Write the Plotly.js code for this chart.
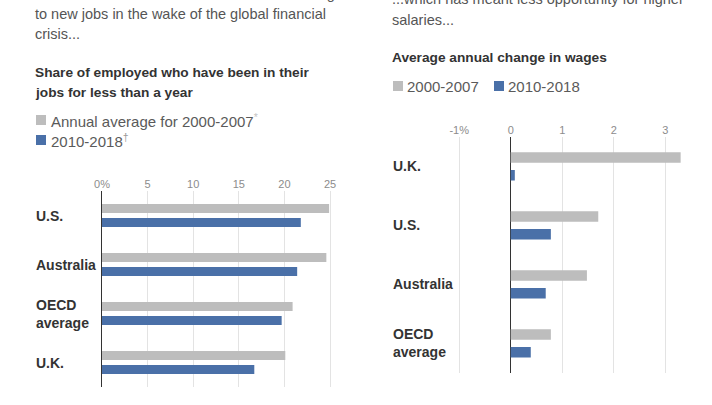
<!DOCTYPE html>
<html>
<head>
<meta charset="utf-8">
<script src="https://cdn.plot.ly/plotly-3.0.1.min.js"></script>
<style>html,body{margin:0;padding:0;background:#fff;}#chart{width:712px;height:405px;}</style>
</head>
<body>
<div id="chart"></div>
<script>
// ---- data ----
const jobCountries = ['U.S.', 'Australia', 'OECD<br>average', 'U.K.'];
const jobs2000_2007 = [24.9, 24.6, 20.9, 20.1];
const jobs2010_2018 = [21.8, 21.4, 19.7, 16.7];
const jobTickVals = [0, 5, 10, 15, 20, 25];
const jobTickText = ['0%', '5', '10', '15', '20', '25'];

const wageCountries = ['U.K.', 'U.S.', 'Australia', 'OECD<br>average'];
const wage2000_2007 = [3.4, 1.7, 1.48, 0.78];
const wage2010_2018 = [0.08, 0.78, 0.68, 0.39];
const wageTickVals = [-1, 0, 1, 2, 3];
const wageTickText = ['-1%', '0', '1', '2', '3'];

const jobSeriesNames = ['Annual average for 2000-2007<sup><span style="color:#c4c4c4">*</span></sup>',
                        '2010-2018<sup><span style="color:#999">\u2020</span></sup>'];
const wageSeriesNames = ['2000-2007', '2010-2018'];

const introLeft = ['Fewer workers in these nations were switching', 'to new jobs in the wake of the global financial', 'crisis...'];
const introRight = ['...which has meant less opportunity for higher', 'salaries...'];
const titleLeft = ['Share of employed who have been in their', 'jobs for less than a year'];
const titleRight = ['Average annual change in wages'];

// ---- style ----
const GRAY = '#bdbdbd', BLUE = '#4a70a8';
const FONT = '"Liberation Sans", Arial, sans-serif';
const W = 712, H = 405;
const px = v => v / W;
const py = v => (H - v) / H;

const traces = [
  {type: 'bar', orientation: 'h', x: jobs2000_2007, y: jobCountries, xaxis: 'x', yaxis: 'y',
   marker: {color: GRAY}, width: 0.184, offset: -0.235, hoverinfo: 'x'},
  {type: 'bar', orientation: 'h', x: jobs2010_2018, y: jobCountries, xaxis: 'x', yaxis: 'y',
   marker: {color: BLUE}, width: 0.184, offset: 0.051, hoverinfo: 'x'},
  {type: 'bar', orientation: 'h', x: wage2000_2007, y: wageCountries, xaxis: 'x2', yaxis: 'y2',
   marker: {color: GRAY}, width: 0.178, offset: -0.237, hoverinfo: 'x'},
  {type: 'bar', orientation: 'h', x: wage2010_2018, y: wageCountries, xaxis: 'x2', yaxis: 'y2',
   marker: {color: BLUE}, width: 0.178, offset: 0.063, hoverinfo: 'x'}
];

const annotations = [];
function txt(text, x, y, size, color, weight) {
  annotations.push({text: text, xref: 'paper', yref: 'paper', x: px(x), y: py(y),
    xanchor: 'left', yanchor: 'middle', showarrow: false, align: 'left',
    font: {family: FONT, size: size, color: color, weight: weight || 400}});
}
introLeft.forEach((t, i) => txt(t, 33, -6 + i * 20, 14.5, '#555'));
introRight.forEach((t, i) => txt(t, 390, -1 + i * 21, 14.5, '#555'));
titleLeft.forEach((t, i) => txt(t, 33, 72 + i * 20, 13.7, '#333', 700));
titleRight.forEach((t, i) => txt(t, 390, 58 + i * 20, 13.7, '#333', 700));
// legends
txt(jobSeriesNames[0], 49, 120, 15, '#5a5a5a');
txt(jobSeriesNames[1], 49, 140, 15, '#5a5a5a');
txt(wageSeriesNames[0], 405, 86, 15, '#5a5a5a');
txt(wageSeriesNames[1], 506, 86, 15, '#5a5a5a');

// category labels
jobCountries.forEach(c => annotations.push({text: c, xref: 'paper', yref: 'y', x: px(34), y: c,
  xanchor: 'left', yanchor: 'middle', showarrow: false, align: 'left',
  font: {family: FONT, size: 14, color: '#333', weight: 700}}));
wageCountries.forEach(c => annotations.push({text: c, xref: 'paper', yref: 'y2', x: px(391), y: c,
  xanchor: 'left', yanchor: 'middle', showarrow: false, align: 'left',
  font: {family: FONT, size: 14, color: '#333', weight: 700}}));

function sw(x, y, color) {
  return {type: 'rect', xref: 'paper', yref: 'paper', x0: px(x), x1: px(x + 10), y0: py(y + 5), y1: py(y - 5),
    fillcolor: color, line: {width: 0}};
}
const shapes = [sw(36, 120, GRAY), sw(36, 140, BLUE), sw(393, 86, GRAY), sw(494, 86, BLUE)];

const tickFont = {family: FONT, size: 11, color: '#8c8c8c'};
const layout = {
  width: W, height: H, margin: {l: 0, r: 0, t: 0, b: 0},
  paper_bgcolor: '#fff', plot_bgcolor: '#fff', showlegend: false, barmode: 'overlay',
  xaxis: {domain: [px(102), px(102 + 25.2 * 9.12)], range: [0, 25.2], side: 'top',
    tickvals: jobTickVals, ticktext: jobTickText, tickfont: tickFont, ticks: '',
    showgrid: true, gridcolor: '#e3e3e3', gridwidth: 1, zeroline: false, showline: false, fixedrange: true},
  yaxis: {domain: [py(387), py(191)], type: 'category', categoryorder: 'array', categoryarray: jobCountries,
    range: [3.5, -0.5], showticklabels: false, ticks: '', showgrid: false, zeroline: false,
    showline: true, linecolor: '#333', linewidth: 1.5, fixedrange: true},
  xaxis2: {domain: [px(510.7 - 1.02 * 51.5), px(510.7 + 3.3 * 51.5)], range: [-1.02, 3.3], side: 'top', anchor: 'y2',
    tickvals: wageTickVals, ticktext: wageTickText, tickfont: tickFont, ticks: '',
    showgrid: true, gridcolor: '#e3e3e3', gridwidth: 1, zeroline: true, zerolinecolor: '#333', zerolinewidth: 1.5,
    showline: false, fixedrange: true},
  yaxis2: {domain: [py(372.7), py(136.7)], anchor: 'x2', type: 'category', categoryorder: 'array', categoryarray: wageCountries,
    range: [3.5, -0.5], showticklabels: false, ticks: '', showgrid: false, zeroline: false, showline: false, fixedrange: true},
  annotations: annotations,
  shapes: shapes
};

Plotly.newPlot('chart', traces, layout, {displayModeBar: false, staticPlot: true});
</script>
</body>
</html>
